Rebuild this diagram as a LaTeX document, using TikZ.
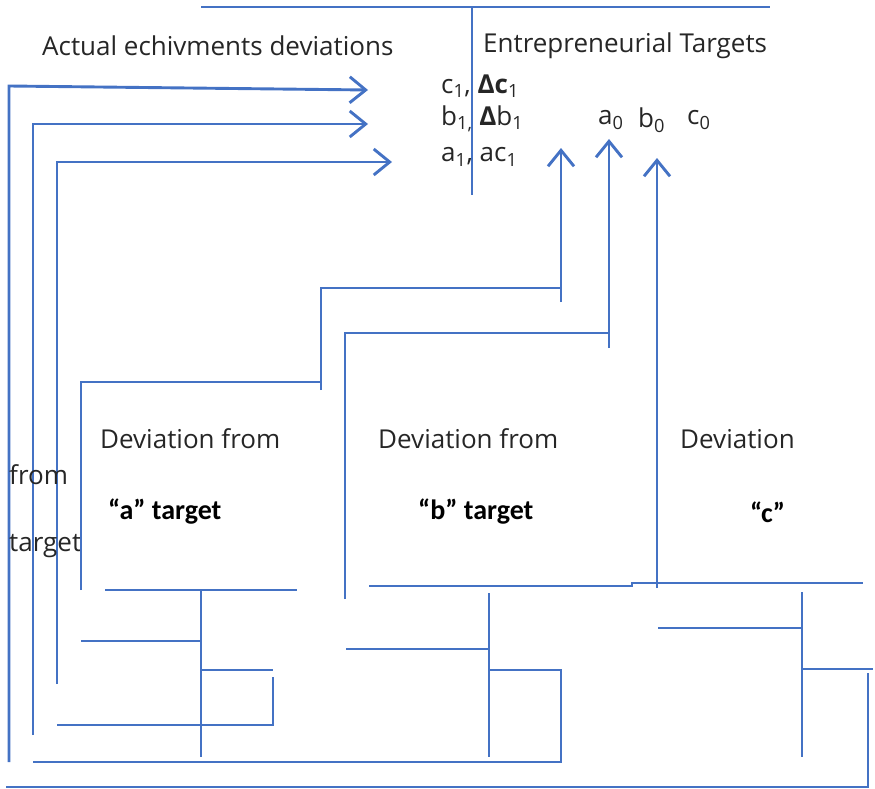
\documentclass[tikz,border=0pt]{standalone}
\usepackage{fontspec}
\setmainfont{Open Sans}
\newfontfamily\boldfont{Carlito}
\usetikzlibrary{arrows.meta}
\definecolor{lineblue}{HTML}{4472C4}

\begin{document}
\begin{tikzpicture}[x=1pt,y=-1pt,
  line/.style={draw=lineblue, line width=2.9pt},
  arr/.style={line, -{Straight Barb[length=16pt,width=26pt]}},
  lbl/.style={font=\fontsize{26}{30}\selectfont, text=black!85, inner sep=0pt, anchor=west},
  tgt/.style={font=\boldfont\bfseries\fontsize{28}{32}\selectfont, inner sep=0pt, anchor=west}]
\useasboundingbox (0,0) rectangle (875,789);

% headings
\node[lbl] (actual) at (42,46) {Actual echivments deviations};
\node[lbl] (targets) at (483,46) {Entrepreneurial Targets};

% actual values and deviations
\node[lbl] (crow) at (441,86) {c\textsubscript{1}, \textbf{Δc}\textsubscript{1}};
\node[lbl] (brow) at (441,119) {b\textsubscript{1,} \textbf{Δ}b\textsubscript{1}};
\node[lbl] (arow) at (441,157) {a\textsubscript{1}, ac\textsubscript{1}};

% targets
\node[lbl] (azero) at (598,120) {a\textsubscript{0}};
\node[lbl] (bzero) at (638,120) {b\textsubscript{0}};
\node[lbl] (czero) at (687,120) {c\textsubscript{0}};

% tips of the arrows
\coordinate (tipc) at (368,90);
\coordinate (tipb) at (368,124);
\coordinate (tipa) at (392,162);
\coordinate (upa) at (561,148);
\coordinate (upb) at (609,139);
\coordinate (upc) at (657,158);

% top T
\draw[line] (201,7) -- (770,7);
\draw[line] (472,7) -- (472,195);

% arrows back to the actual values
\draw[arr] (9,762) -- (9,86) -- (tipc);
\draw[arr] (33,735) -- (33,124) -- (tipb);
\draw[arr] (57,684) -- (57,162) -- (tipa);

% bottom lines
\draw[line] (33,762) -- (561,762) -- (561,670) -- (489,670);
\draw[line] (6,787) -- (868,787) -- (868,673);

% boxes
\node[lbl] (deva) at (100,439) {Deviation from};
\node[tgt] (tgta) at (108,512) {“a” target};
\node[lbl] (devb) at (378,439) {Deviation from};
\node[tgt] (tgtb) at (418,512) {“b” target};
\node[lbl] (devc) at (680,439) {Deviation};
\node[tgt] (tgtc) at (750,512) {“c”};
\node[lbl] (from) at (9,475) {from};
\node[lbl] (target) at (9,546) {target};

% tree a
\draw[line] (105,590) -- (297,590);
\draw[line] (201,590) -- (201,757);
\draw[line] (81,641) -- (201,641);
\draw[line] (201,670) -- (273,670);
\draw[line] (57,725) -- (273,725) -- (273,677);

% tree b
\draw[line] (369,586) -- (632,586) -- (632,583) -- (863,583);
\draw[line] (489,593) -- (489,757);
\draw[line] (346,649) -- (489,649);

% tree c
\draw[line] (802,592) -- (802,757);
\draw[line] (658,628) -- (802,628);
\draw[line] (802,669) -- (873,669);

% arrows up to the targets
\draw[line] (81,590) -- (81,382) -- (321,382);
\draw[line] (321,390) -- (321,288) -- (561,288);
\draw[arr] (561,302) -- (upa);
\draw[line] (345,599) -- (345,333) -- (609,333);
\draw[arr] (609,348) -- (upb);
\draw[arr] (657,588) -- (upc);
\end{tikzpicture}
\end{document}
